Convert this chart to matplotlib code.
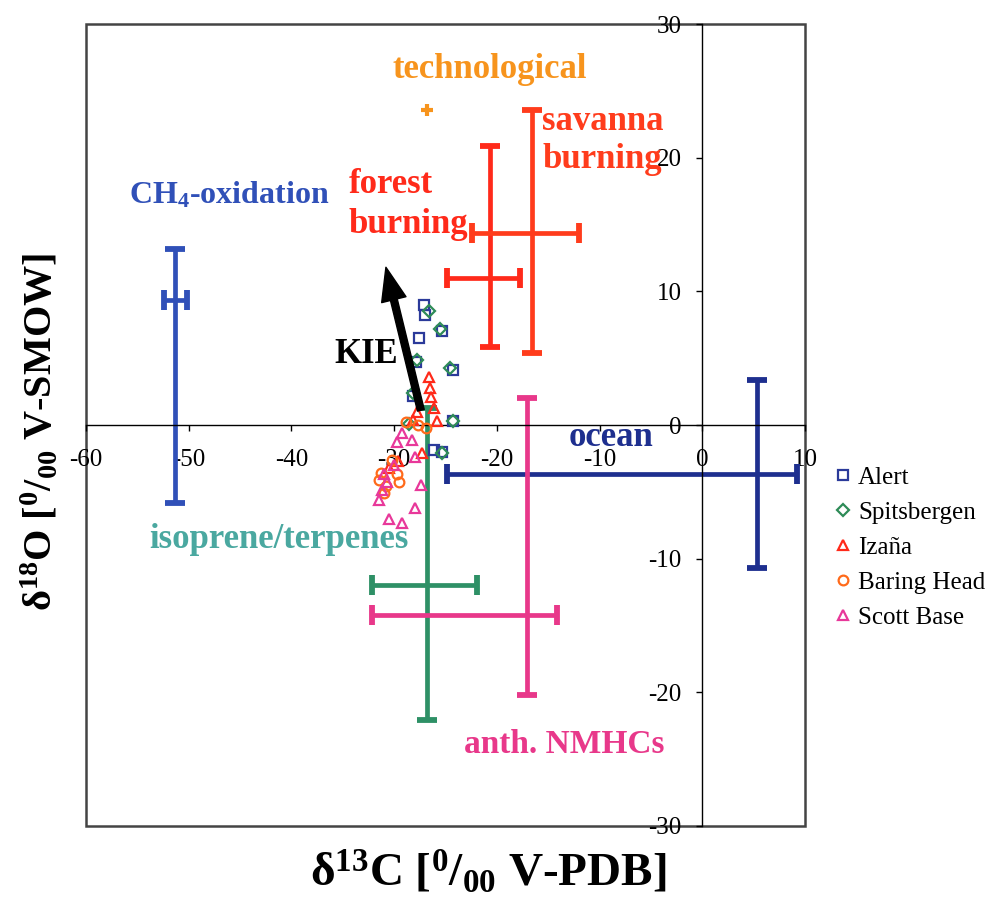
import matplotlib
matplotlib.use("Agg")
import matplotlib.pyplot as plt
from matplotlib.patches import Rectangle

plt.rcParams['font.family'] = ['Liberation Serif', 'DejaVu Serif']
plt.rcParams['mathtext.fontset'] = 'custom'
plt.rcParams['mathtext.rm'] = 'Liberation Serif'
plt.rcParams['mathtext.bf'] = 'Liberation Serif:bold'
plt.rcParams['mathtext.it'] = 'Liberation Serif:italic'
plt.rcParams['axes.unicode_minus'] = False

# ---------------- data ----------------
# source signatures (center, asymmetric error extents)
source_names = ["CH4-oxidation", "forest burning", "savanna burning", "technological",
                "ocean", "isoprene/terpenes", "anth. NMHCs"]
source_x = [-51.3, -20.7, -16.6, -26.8, 5.3, -26.8, -17.1]
source_y = [9.35, 11.0, 14.4, 23.6, -3.7, -12.0, -14.2]
source_x_lo = [1.1, 4.2, 5.8, 0.6, 30.2, 5.4, 15.1]
source_x_hi = [1.1, 3.0, 4.6, 0.6, 3.9, 4.9, 3.0]
source_y_lo = [15.15, 5.2, 9.0, 0.45, 7.0, 10.1, 6.0]
source_y_hi = [3.85, 9.9, 9.2, 0.45, 7.1, 13.3, 16.2]
source_colors = ["#3050b8", "#ff2a1a", "#ff3c1c", "#f7941d", "#1e2f8f", "#2e9066", "#e8388a"]

# station measurements
alert_x = [-27.1, -27.0, -27.6, -25.3, -24.3, -27.9, -28.2, -24.3, -26.1, -25.3]
alert_y = [9.0, 8.2, 6.5, 7.0, 4.1, 4.7, 2.2, 0.3, -1.9, -2.0]
spits_x = [-26.6, -25.5, -24.6, -27.8, -28.2, -24.3, -25.3, -28.6]
spits_y = [8.5, 7.2, 4.3, 4.9, 2.4, 0.3, -2.1, 0.1]
izana_x = [-26.6, -26.5, -26.4, -26.1, -25.8, -27.8, -28.2, -27.3, -29.6, -30.5]
izana_y = [3.6, 2.8, 2.1, 1.3, 0.3, 1.0, 0.4, -2.1, -2.7, -3.2]
baring_x = [-28.8, -26.9, -27.7, -31.3, -30.8, -29.5, -29.7, -31.0, -31.5, -30.2]
baring_y = [0.2, -0.2, 0.0, -3.6, -4.6, -4.3, -3.7, -5.1, -4.1, -2.6]
scott_x = [-29.2, -29.7, -28.3, -28.0, -30.0, -31.0, -30.7, -31.2, -27.4, -28.0, -30.5, -29.2, -31.5]
scott_y = [-0.6, -1.3, -1.1, -2.4, -3.0, -3.7, -4.3, -4.9, -4.5, -6.2, -7.0, -7.3, -5.6]

stations = ["Alert", "Spitsbergen", "Izaña", "Baring Head", "Scott Base"]
station_colors = ["#2b3a9a", "#2e8b57", "#ff2a1a", "#ff6a1a", "#e8389a"]
station_markers = ["s", "D", "^", "o", "^"]

kie_start = (-27.4, 1.1)
kie_end = (-30.8, 11.8)

x_ticks = [-60, -50, -40, -30, -20, -10, 0, 10]
y_ticks = [-30, -20, -10, 0, 10, 20, 30]

# ---------------- figure ----------------
fig = plt.figure(figsize=(9.94, 9.01), dpi=100)
ax = fig.add_axes([86/994, 1-826/901, (805-86)/994, (826-24)/901])
ax.set_xlim(-60, 10)
ax.set_ylim(-30, 30)

# frame
ax.add_patch(Rectangle((0, 0), 1, 1, transform=ax.transAxes, fill=False,
                       edgecolor="#444444", linewidth=1.8, zorder=0.5, clip_on=False))
ax.spines['top'].set_visible(False)
ax.spines['right'].set_visible(False)
ax.spines['left'].set_position(('data', 0))
ax.spines['bottom'].set_position(('data', 0))
ax.spines['left'].set_linewidth(1.0)
ax.spines['bottom'].set_linewidth(1.0)
ax.set_xticks(x_ticks)
ax.set_yticks(y_ticks)
ax.set_xticklabels([str(v) for v in x_ticks])
ax.set_yticklabels([str(v) for v in y_ticks])
ax.tick_params(axis='both', direction='out', length=4, width=1, labelsize=18)
ax.tick_params(axis='x', pad=13)
ax.tick_params(axis='y', pad=11)

# source error bars
for i, name in enumerate(source_names):
    if name == "technological":
        ax.errorbar([source_x[i]], [source_y[i]],
                    xerr=[[source_x_lo[i]], [source_x_hi[i]]],
                    yerr=[[source_y_lo[i]], [source_y_hi[i]]],
                    fmt='none', ecolor=source_colors[i], elinewidth=3.0,
                    capsize=0, zorder=2)
    else:
        ax.errorbar([source_x[i]], [source_y[i]],
                    xerr=[[source_x_lo[i]], [source_x_hi[i]]],
                    yerr=[[source_y_lo[i]], [source_y_hi[i]]],
                    fmt='none', ecolor=source_colors[i], elinewidth=3.4,
                    capsize=7.5, capthick=4.2, zorder=2)

# station points
station_data = [(alert_x, alert_y), (spits_x, spits_y), (izana_x, izana_y),
                (baring_x, baring_y), (scott_x, scott_y)]
for (sx, sy), name, c, m in zip(station_data, stations, station_colors, station_markers):
    ms = 6 if m == "D" else 7
    ax.plot(sx, sy, linestyle='none', marker=m, markersize=ms, markerfacecolor='none',
            markeredgecolor=c, markeredgewidth=1.6, label=name, zorder=3)

# KIE arrow
ax.annotate('', xy=kie_end, xytext=kie_start,
            arrowprops=dict(facecolor='black', edgecolor='black', width=5,
                            headwidth=18, headlength=24), zorder=4)

# labels
tkw = dict(fontweight='bold', fontsize=25)
ax.text(-20.7, 26.6, "technological", color="#f7941d", ha='center', va='center', **tkw)
ax.text(-15.6, 21.3, "savanna\nburning", color="#ff3c1c", ha='left', va='center',
        linespacing=1.2, **tkw)
ax.text(-34.4, 16.5, "forest\nburning", color="#ff2a1a", ha='left', va='center',
        linespacing=1.3, **tkw)
ax.text(-55.8, 17.2, r"CH$_\mathbf{4}$-oxidation", color="#3050b8", ha='left', va='center',
        fontweight='bold', fontsize=23)
ax.text(-35.8, 5.3, "KIE", color="black", ha='left', va='center', **tkw)
ax.text(-13.0, -0.9, "ocean", color="#1e2f8f", ha='left', va='center', **tkw)
ax.text(-53.8, -8.6, "isoprene/terpenes", color="#4aa8a0", ha='left', va='center', **tkw)
ax.text(-23.2, -23.9, "anth. NMHCs", color="#e8388a", ha='left', va='center', fontweight='bold',
        fontsize=24)

# axis labels
fig.text(40/994, 1-432/901, r"δ$^{\mathbf{18}}$O [$^{\mathbf{0}}$/$_{\mathbf{00}}$ V-SMOW]",
         rotation=90, ha='center', va='center', fontsize=29, fontweight='bold')
fig.text(488/994, 1-873/901, r"δ$^{\mathbf{13}}$C [$^{\mathbf{0}}$/$_{\mathbf{00}}$ V-PDB]",
         ha='center', va='center', fontsize=34, fontweight='bold')

# legend
fig.legend(loc='upper left', bbox_to_anchor=(832/994, 1-466/901), frameon=False,
           fontsize=18, handletextpad=0.15, labelspacing=0.5, handlelength=0.9,
           borderaxespad=0, borderpad=0)

fig.savefig("out.png", dpi=100)
